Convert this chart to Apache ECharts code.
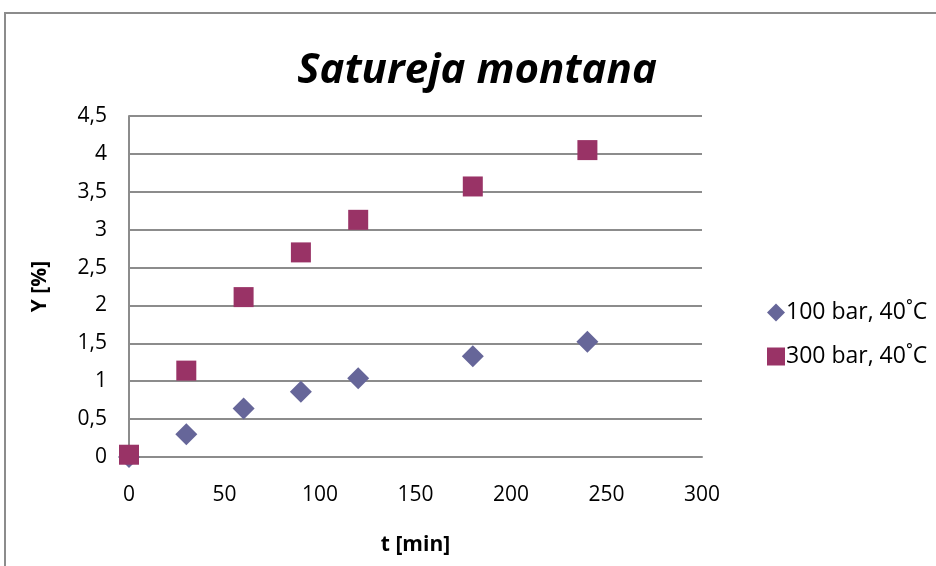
<!DOCTYPE html>
<html><head><meta charset="utf-8">
<script src="https://cdn.jsdelivr.net/npm/echarts@6/dist/echarts.min.js"></script>
<style>html,body{margin:0;padding:0;background:#fff}#c{width:936px;height:566px}</style>
</head><body><div id="c"></div>
<script>
const times = [0, 30, 60, 90, 120, 180, 240];
const y100 = [0.0, 0.30, 0.64, 0.86, 1.04, 1.33, 1.52];
const y300 = [0.03, 1.14, 2.11, 2.70, 3.13, 3.57, 4.05];
const seriesNames = ['100 bar, 40˚C', '300 bar, 40˚C'];
const titleText = 'Satureja montana';
const xName = 't [min]';
const yName = 'Y [%]';
const FONT = 'Open Sans';

const chart = echarts.init(document.getElementById('c'), null, {renderer: 'canvas'});
chart.setOption({
  animation: false,
  backgroundColor: '#fff',
  textStyle: {fontFamily: FONT},
  graphic: [{type: 'rect', shape: {x: 5, y: 13, width: 960, height: 600},
    style: {fill: 'none', stroke: '#8c8c8c', lineWidth: 2}, silent: true}],
  title: {text: titleText, left: 472, top: 45, textAlign: 'center',
    textStyle: {fontFamily: FONT, fontSize: 42, fontWeight: 'bold', fontStyle: 'italic', color: '#000'}},
  grid: {left: 129, top: 116, right: 234, bottom: 109},
  legend: {orient: 'vertical', left: 762, top: 296, itemGap: 21, itemWidth: 18, itemHeight: 18,
    textStyle: {fontFamily: FONT, fontSize: 23, color: '#000', padding: [0, 0, 0, -4]},
    data: [{name: seriesNames[0], icon: 'diamond'}, {name: seriesNames[1], icon: 'rect'}]},
  xAxis: {type: 'value', min: 0, max: 300, interval: 50,
    name: xName, nameLocation: 'middle', nameGap: 78,
    nameTextStyle: {fontFamily: FONT, fontSize: 21, fontWeight: 'bold', color: '#000'},
    axisLine: {show: true, lineStyle: {color: '#8c8c8c', width: 2}},
    axisTick: {show: false}, splitLine: {show: false},
    axisLabel: {fontFamily: FONT, fontSize: 21, color: '#000', margin: 28}},
  yAxis: {type: 'value', min: 0, max: 4.5, interval: 0.5,
    name: yName, nameLocation: 'middle', nameGap: 78, nameRotate: 90,
    nameTextStyle: {fontFamily: FONT, fontSize: 21, fontWeight: 'bold', color: '#000'},
    axisLine: {show: true, lineStyle: {color: '#8c8c8c', width: 2}},
    axisTick: {show: false},
    splitLine: {show: true, lineStyle: {color: '#8c8c8c', width: 2}},
    axisLabel: {fontFamily: FONT, fontSize: 21, color: '#000', margin: 22,
      formatter: v => String(v).replace('.', ',')}},
  series: [
    {name: seriesNames[0], type: 'scatter', symbol: 'diamond', symbolSize: 22,
      itemStyle: {color: '#666699', opacity: 1}, data: times.map((t, i) => [t, y100[i]])},
    {name: seriesNames[1], type: 'scatter', symbol: 'rect', symbolSize: 20,
      itemStyle: {color: '#993366', opacity: 1}, data: times.map((t, i) => [t, y300[i]])}
  ]
});
</script></body></html>
